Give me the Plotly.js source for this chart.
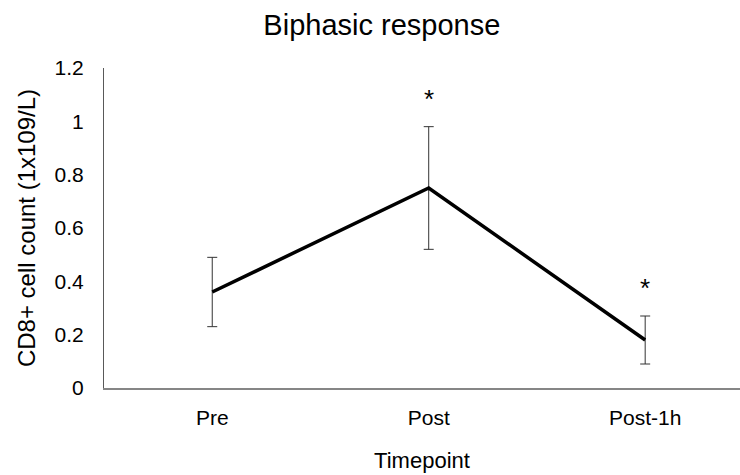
<!DOCTYPE html>
<html>
<head>
<meta charset="utf-8">
<script src="https://cdn.plot.ly/plotly-3.0.1.min.js"></script>
<style>html,body{margin:0;padding:0;background:#fff;}#chart{width:740px;height:475px;}</style>
</head>
<body>
<div id="chart"></div>
<script>
const categories = ["Pre", "Post", "Post-1h"];
const meanCount = [0.36, 0.75, 0.18];
const errorSD = [0.13, 0.23, 0.09];
const significant = [false, true, true];
const yTickVals = [0, 0.2, 0.4, 0.6, 0.8, 1, 1.2];
const yTickText = ["0", "0.2", "0.4", "0.6", "0.8", "1", "1.2"];

const font = "Liberation Sans, Arial, sans-serif";
const starOffset = 0.105;

const annotations = [];
categories.forEach((c, i) => {
  if (significant[i]) {
    annotations.push({
      x: c, y: meanCount[i] + errorSD[i] + starOffset,
      xref: "x", yref: "y", text: "*", showarrow: false,
      font: {family: font, size: 26, color: "#000"},
      xanchor: "center", yanchor: "middle"
    });
  }
});

const trace = {
  type: "scatter", mode: "lines",
  x: categories, y: meanCount,
  line: {color: "#000", width: 3.5},
  error_y: {type: "data", array: errorSD, visible: true, color: "#333333", thickness: 1, width: 5},
  hoverinfo: "x+y"
};

const layout = {
  width: 740, height: 475,
  margin: {l: 104, r: 0, t: 68, b: 87},
  paper_bgcolor: "#fff", plot_bgcolor: "#fff",
  showlegend: false,
  title: {text: "Biphasic response", font: {family: font, size: 29, color: "#000"}, x: 0.516, xanchor: "center", y: 0.947, yanchor: "middle"},
  xaxis: {
    type: "category", range: [-0.5, 2.438],
    showline: true, linecolor: "#868686", linewidth: 1.5,
    showgrid: false, zeroline: false, ticks: "",
    ticklabelstandoff: 10,
    tickfont: {family: font, size: 21, color: "#000"},
    title: {text: "Timepoint", font: {family: font, size: 22, color: "#000"}, standoff: 25}
  },
  yaxis: {
    range: [0, 1.2], tickvals: yTickVals, ticktext: yTickText,
    showline: true, linecolor: "#595959", linewidth: 1,
    showgrid: false, zeroline: false, ticks: "",
    ticklabelstandoff: 15,
    tickfont: {family: font, size: 21, color: "#000"},
    title: {text: "CD8+ cell count (1x109/L)", font: {family: font, size: 24, color: "#000"}, standoff: 12}
  },
  annotations: annotations
};

Plotly.newPlot("chart", [trace], layout, {displayModeBar: false, staticPlot: true});
</script>
</body>
</html>
